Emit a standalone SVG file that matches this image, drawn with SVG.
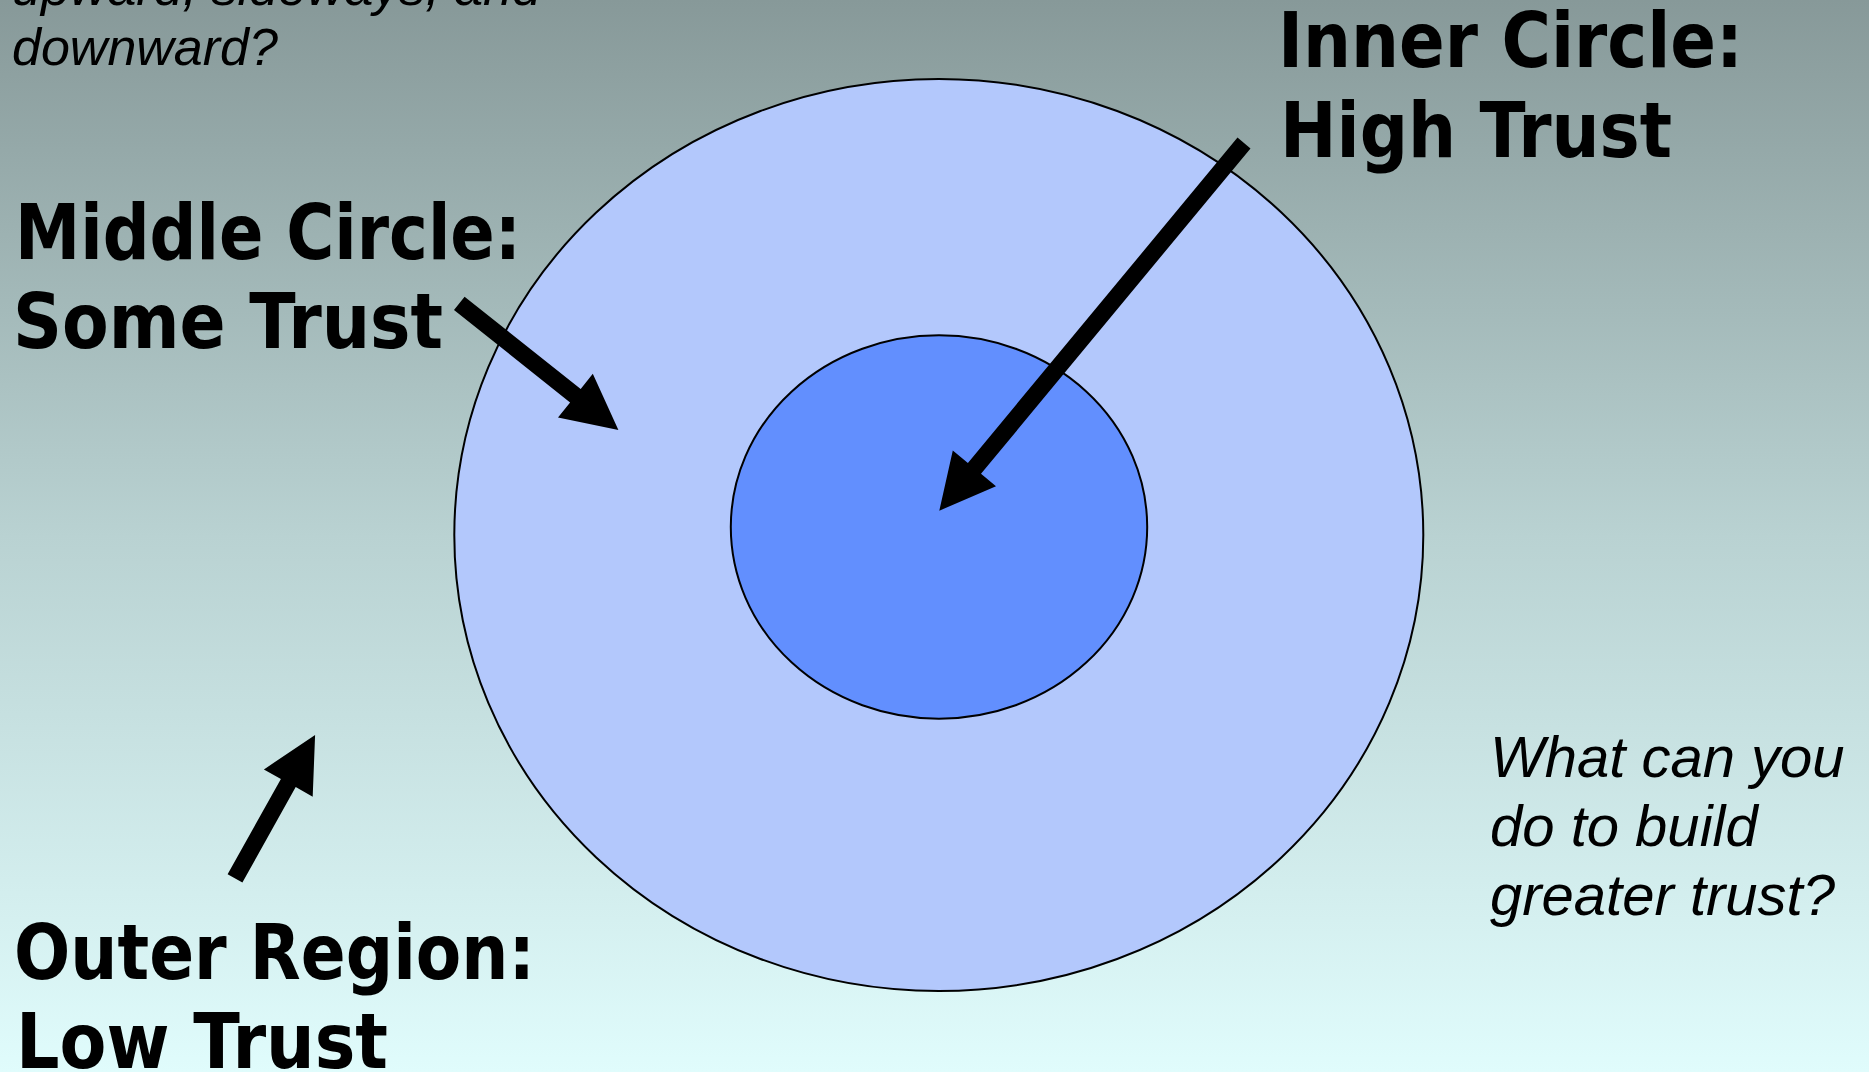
<svg xmlns="http://www.w3.org/2000/svg" width="1869" height="1072" viewBox="0 0 1869 1072">
  <defs>
    <linearGradient id="bg" x1="0" y1="0" x2="0" y2="1">
      <stop offset="0" stop-color="#879999"/>
      <stop offset="0.5" stop-color="#b9d2d2"/>
      <stop offset="1" stop-color="#e0fcfc"/>
    </linearGradient>
    <style>
      .lbl { font-family: "DejaVu Sans", Verdana, sans-serif; font-weight: bold; font-size: 76px; fill: #000; }
      .q { font-family: "Liberation Sans", Arial, sans-serif; font-style: italic; fill: #000; }
      .ring { stroke: #000; stroke-width: 2; }
      .arrow { fill: #000; stroke: none; }
    </style>
  </defs>
  <rect x="0" y="0" width="1869" height="1072" fill="url(#bg)"/>

  <g id="outer-circle">
    <ellipse class="ring" cx="938.8" cy="535" rx="484.5" ry="456" fill="#b3c8fc"/>
  </g>
  <g id="inner-circle">
    <ellipse class="ring" cx="939" cy="527" rx="208.2" ry="191.7" fill="#628ffe"/>
  </g>

  <g id="connectors">
    <polygon class="arrow" points="1237.5,137.6 967.9,462.9 952.8,450.5 939.3,510.7 996.0,486.2 981.0,473.8 1250.5,148.4"/>
    <polygon class="arrow" points="464.6,296.7 580.7,389.1 592.8,373.8 618.4,430 558.0,417.6 570.1,402.4 454.0,310.0"/>
    <polygon class="arrow" points="227.6,874.3 280.9,778.9 263.9,769.4 315.1,735 312.7,796.7 295.7,787.1 242.4,882.5"/>
  </g>

  <g id="label-top-question">
    <text class="q" x="12" y="5" font-size="52">upward, sideways, and</text>
    <text class="q" x="12" y="65" font-size="52">downward?</text>
  </g>
  <g id="label-inner">
    <text class="lbl" x="1278" y="67" textLength="465" lengthAdjust="spacingAndGlyphs">Inner Circle:</text>
    <text class="lbl" x="1280" y="157" textLength="392" lengthAdjust="spacingAndGlyphs">High Trust</text>
  </g>
  <g id="label-middle">
    <text class="lbl" x="15" y="259" textLength="506" lengthAdjust="spacingAndGlyphs">Middle Circle:</text>
    <text class="lbl" x="13" y="348" textLength="430" lengthAdjust="spacingAndGlyphs">Some Trust</text>
  </g>
  <g id="label-outer">
    <text class="lbl" x="14" y="979" textLength="521" lengthAdjust="spacingAndGlyphs">Outer Region:</text>
    <text class="lbl" x="16" y="1068" textLength="372" lengthAdjust="spacingAndGlyphs">Low Trust</text>
  </g>
  <g id="label-question">
    <text class="q" x="1490" y="777" font-size="58">What can you</text>
    <text class="q" x="1490" y="846" font-size="58">do to build</text>
    <text class="q" x="1490" y="915" font-size="58">greater trust?</text>
  </g>
</svg>
